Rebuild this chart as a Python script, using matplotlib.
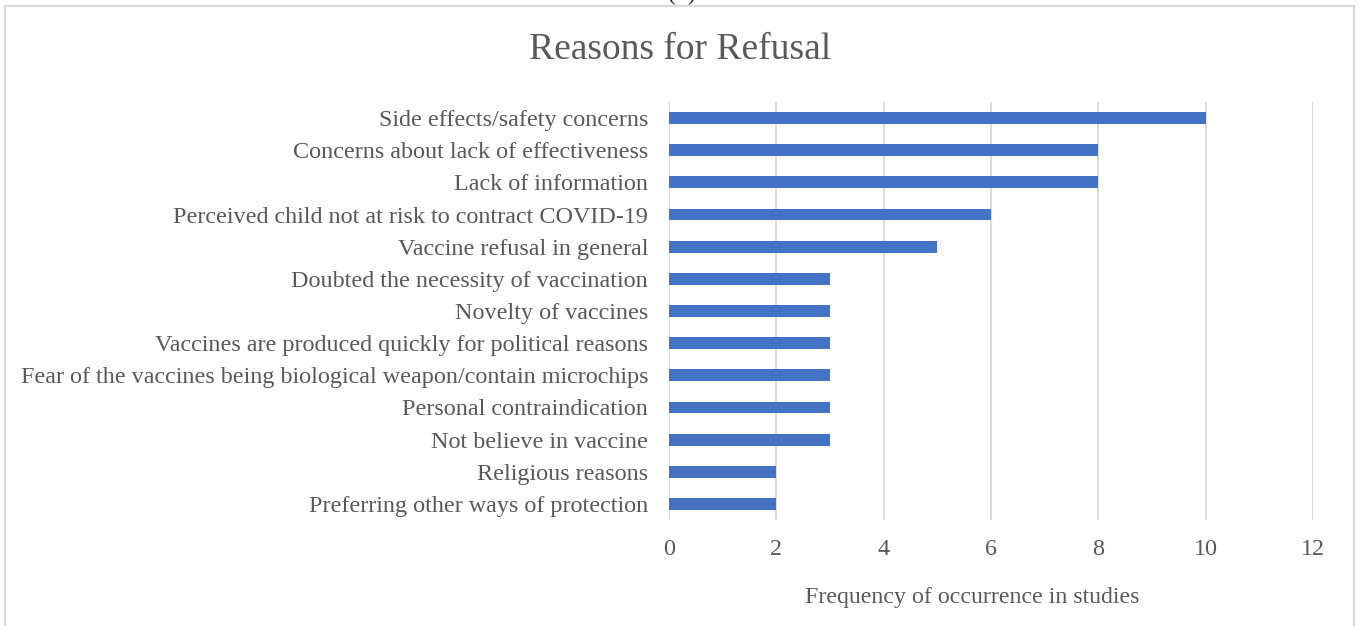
import matplotlib.pyplot as plt
from matplotlib.patches import Rectangle

reasons = [
    "Side effects/safety concerns",
    "Concerns about lack of effectiveness",
    "Lack of information",
    "Perceived child not at risk to contract COVID-19",
    "Vaccine refusal in general",
    "Doubted the necessity of vaccination",
    "Novelty of vaccines",
    "Vaccines are produced quickly for political reasons",
    "Fear of the vaccines being biological weapon/contain microchips",
    "Personal contraindication",
    "Not believe in vaccine",
    "Religious reasons",
    "Preferring other ways of protection",
]
counts = [10, 8, 8, 6, 5, 3, 3, 3, 3, 3, 3, 2, 2]
xticks = [0, 2, 4, 6, 8, 10, 12]

plt.rcParams['font.family'] = ['Liberation Serif', 'DejaVu Serif']
grey = '#595959'

W, H = 1359, 626
fig = plt.figure(figsize=(W / 100, H / 100), dpi=100)

# outer frame of the chart area
fig.patches.append(Rectangle((5 / W, -0.01), (1354 - 5) / W, (H - 6) / H + 0.01,
                             transform=fig.transFigure, fill=False,
                             edgecolor='#D9D9D9', linewidth=1.5))

# panel letter, cut off at the very top like in the original
fig.text(682 / W, 1 - (-6) / H, "(b)", ha='center', va='center', fontsize=17, color='#222222')

ax = fig.add_axes([669 / W, 1 - 520 / H, (1313 - 669) / W, (520 - 102) / H])
y = list(range(len(reasons)))
ax.barh(y, counts, height=0.37, color='#4472C4', zorder=3)
ax.set_ylim(len(reasons) - 0.5, -0.5)
ax.set_xlim(0, 12)
ax.set_xticks(xticks)
ax.set_yticks(y)
ax.set_yticklabels(reasons)
ax.grid(axis='x', color='#D9D9D9', linewidth=1.3, zorder=0)
for s in ax.spines.values():
    s.set_visible(False)
ax.tick_params(axis='both', length=0, labelsize=17.4, labelcolor=grey)
ax.tick_params(axis='y', pad=15)
ax.tick_params(axis='x', pad=14)

fig.text(680 / W, 1 - 50 / H, "Reasons for Refusal", ha='center', va='center',
         fontsize=27, color=grey)
fig.text(972 / W, 1 - 598 / H, "Frequency of occurrence in studies", ha='center',
         va='center', fontsize=17.2, color=grey)

fig.savefig('out.png', dpi=100)
